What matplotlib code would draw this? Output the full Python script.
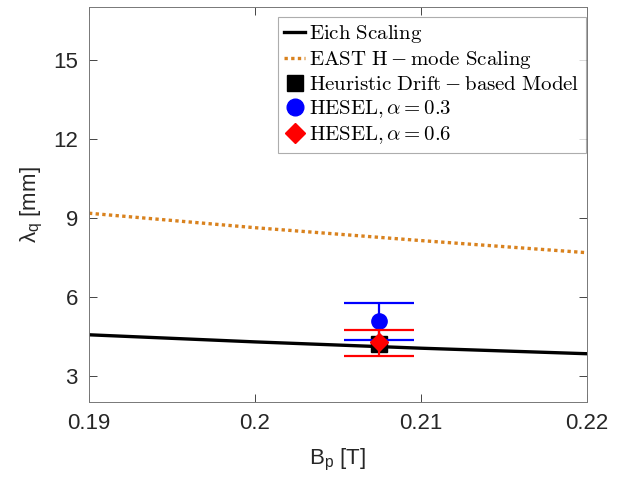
import matplotlib
matplotlib.use("Agg")
import matplotlib.pyplot as plt
from matplotlib.lines import Line2D

plt.rcParams['mathtext.fontset'] = 'cm'
plt.rcParams['mathtext.rm'] = 'Liberation Sans'
plt.rcParams['mathtext.it'] = 'Liberation Sans:italic'
plt.rcParams['font.family'] = ['Liberation Sans', 'DejaVu Sans']

# scaling curves
bp_curve = [0.19, 0.20, 0.21, 0.22]
eich = [4.55, 4.28, 4.04, 3.83]
east = [9.17, 8.62, 8.13, 7.67]

# single-point results at Bp ~ 0.2075 T
bp_pt = 0.2075
drift_val = 4.2
hesel03 = 5.06
hesel03_err = (0.69, 0.69)   # (lower, upper)
hesel06 = 4.26
hesel06_err = (0.53, 0.49)

labels = [r'$\mathrm{Eich\ Scaling}$',
          r'$\mathrm{EAST\ H-mode\ Scaling}$',
          r'$\mathrm{Heuristic\ Drift-based\ Model}$',
          r'$\mathrm{HESEL},\alpha=0.3$',
          r'$\mathrm{HESEL},\alpha=0.6$']

east_color = '#D9821E'

fig = plt.figure(figsize=(6.31, 4.79), dpi=100)
ax = fig.add_axes([0.141, 0.161, 0.789, 0.824])

ax.plot(bp_curve, eich, color='black', lw=2.4, zorder=2)
ax.plot(bp_curve, east, color=east_color, lw=2.4, ls=(0, (1, 1)), zorder=2)
ax.plot([bp_pt], [drift_val], 's', color='black', ms=11, zorder=3)
ax.errorbar([bp_pt], [hesel03], yerr=[[hesel03_err[0]], [hesel03_err[1]]],
            fmt='o', color='blue', ms=11, elinewidth=1.6, capsize=25, capthick=1.6,
            zorder=4)
ax.errorbar([bp_pt], [hesel06], yerr=[[hesel06_err[0]], [hesel06_err[1]]],
            fmt='D', color='red', ms=9, elinewidth=1.6, capsize=25, capthick=1.6,
            zorder=5)

ax.set_xlim(0.19, 0.22)
ax.set_ylim(2, 17)
ax.set_xticks([0.19, 0.20, 0.21, 0.22])
ax.set_xticklabels(['0.19', '0.2', '0.21', '0.22'])
ax.set_yticks([3, 6, 9, 12, 15])

ax.tick_params(direction='in', top=True, right=True, length=6, width=0.6,
               labelsize=16, colors='#262626', pad=8)
for s in ax.spines.values():
    s.set_color('#777777')
    s.set_linewidth(0.7)

ax.set_xlabel(r'B$_\mathrm{p}$ [T]', fontsize=16, color='#262626', labelpad=9,
              math_fontfamily='custom')
ax.set_ylabel(r'λ$_\mathrm{q}$ [mm]', fontsize=16, color='#262626', labelpad=6,
              math_fontfamily='custom')

handles = [Line2D([], [], color='black', lw=2.4),
           Line2D([], [], color=east_color, lw=2.4, ls=(0, (1, 1))),
           Line2D([], [], color='black', marker='s', ls='none', ms=12),
           Line2D([], [], color='blue', marker='o', ls='none', ms=12),
           Line2D([], [], color='red', marker='D', ls='none', ms=10)]
leg = ax.legend(handles, labels, loc='upper right', bbox_to_anchor=(0.998, 0.976),
                fontsize=15, frameon=True, fancybox=False, edgecolor='#999999',
                handlelength=1.0, handletextpad=0.2, borderpad=0.3, labelspacing=0.2,
                borderaxespad=0.0)
leg.get_frame().set_linewidth(0.8)

fig.savefig('out.png', dpi=100)
